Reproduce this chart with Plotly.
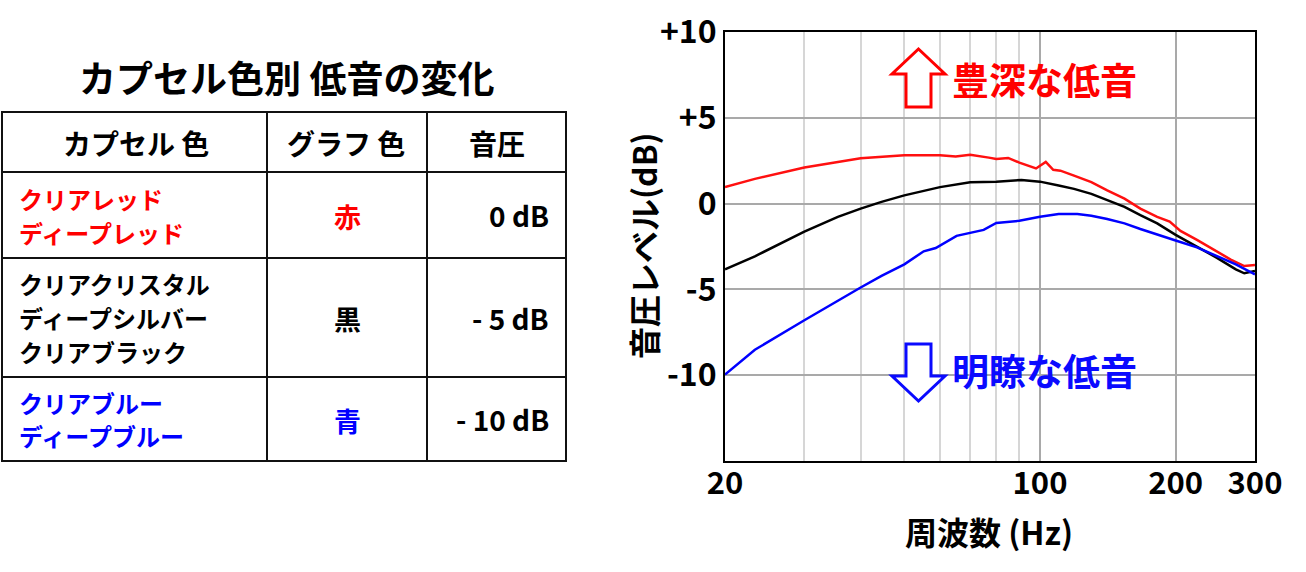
import plotly.graph_objects as go

W, H = 1306, 572
FONT = "Noto Sans CJK JP"

# ---- data ----
freq_red = [20, 23.3, 30, 35.6, 40, 50, 60, 65, 70, 77, 80, 85, 90, 98, 103, 107, 111, 119, 130, 141, 154, 167, 182, 194, 205, 223, 243, 265, 284, 300]
red_db = [0.96, 1.44, 2.10, 2.43, 2.64, 2.82, 2.82, 2.74, 2.84, 2.68, 2.60, 2.66, 2.39, 2.05, 2.43, 1.97, 1.92, 1.63, 1.25, 0.77, 0.29, -0.29, -0.77, -1.05, -1.59, -2.11, -2.68, -3.26, -3.64, -3.58]

freq_black = [20, 23.3, 30, 35.6, 40, 44.5, 50, 60, 70, 80, 91, 100, 110, 119, 130, 141, 154, 167, 182, 200, 223, 247, 272, 284, 300]
black_db = [-3.83, -3.07, -1.63, -0.77, -0.29, 0.10, 0.48, 0.96, 1.25, 1.28, 1.38, 1.28, 1.05, 0.86, 0.57, 0.19, -0.19, -0.67, -1.15, -1.82, -2.49, -3.16, -3.83, -4.06, -3.93]

freq_blue = [20, 23.3, 30, 35.6, 40, 44.5, 50, 55.2, 58.7, 65.3, 70, 75, 80, 90, 100, 110, 121, 130, 141, 154, 167, 182, 200, 223, 247, 272, 300]
blue_db = [-9.96, -8.52, -6.80, -5.65, -4.89, -4.21, -3.54, -2.78, -2.59, -1.88, -1.72, -1.53, -1.13, -1.00, -0.77, -0.61, -0.61, -0.71, -0.90, -1.15, -1.48, -1.82, -2.15, -2.55, -3.07, -3.54, -4.12]

x_tickvals = [20, 100, 200, 300]
x_ticktext = ["20", "100", "200", "300"]
x_minor = [30, 40, 50, 60, 70, 80, 90]
y_tickvals = [10, 5, 0, -5, -10]
y_ticktext = ["+10", "+5", "0", "-5", "-10"]

title_text = "カプセル色別 低音の変化"
table_header = ["カプセル 色", "グラフ 色", "音圧"]
capsule_names = [["クリアレッド", "ディープレッド"],
                 ["クリアクリスタル", "ディープシルバー", "クリアブラック"],
                 ["クリアブルー", "ディープブルー"]]
graph_colors = ["赤", "黒", "青"]
pressures = ["0 dB", "- 5 dB", "- 10 dB"]
row_text_colors = ["#ff0000", "#000000", "#0000ff"]

RED = "#ff0000"
BLUE = "#0a0aff"


def px(x):
    return x / W


def py(y):
    return 1 - y / H


fig = go.Figure()
for f, v, c in [(freq_red, red_db, "#ff1010"), (freq_black, black_db, "#000000"), (freq_blue, blue_db, "#0000ff")]:
    fig.add_trace(go.Scatter(x=f, y=v, mode="lines", line=dict(color=c, width=2.5), showlegend=False, hoverinfo="skip"))

x0p, x1p, y0p, y1p = 725, 1255, 461, 32

fig.update_layout(
    width=W, height=H,
    margin=dict(l=0, r=0, t=0, b=0, pad=0, autoexpand=False),
    paper_bgcolor="white", plot_bgcolor="white",
    showlegend=False,
    xaxis=dict(
        type="log", range=[1.30103, 2.47712],
        domain=[px(x0p), px(x1p)],
        tickvals=x_tickvals, ticktext=x_ticktext, ticks="",
        tickfont=dict(family=FONT, size=31, color="black", weight="bold"),
        ticklabelstandoff=-6,
        showgrid=True, gridcolor="#a9a9a9", gridwidth=2,
        minor=dict(tickvals=x_minor, showgrid=True, gridcolor="#d6d6d6", gridwidth=2, ticks=""),
        showline=True, linecolor="black", linewidth=2, mirror=True,
        zeroline=False, fixedrange=True, automargin=False,
    ),
    yaxis=dict(
        range=[-15, 10],
        domain=[py(y0p), py(y1p)],
        tickvals=y_tickvals, ticktext=y_ticktext, ticks="",
        tickfont=dict(family=FONT, size=32, color="black", weight="bold"),
        showgrid=True, gridcolor="#a9a9a9", gridwidth=2,
        showline=True, linecolor="black", linewidth=2, mirror=True,
        zeroline=False, fixedrange=True, automargin=False,
    ),
)

ann = []
shapes = []

# axis titles
ann.append(dict(x=px(989), y=py(531), xref="paper", yref="paper", text="周波数 (Hz)", showarrow=False,
                font=dict(family=FONT, size=32, color="black", weight="bold"), xanchor="center", yanchor="middle"))
ann.append(dict(x=px(643), y=py(246), xref="paper", yref="paper", text="音圧レベル(dB)", showarrow=False, textangle=-90,
                font=dict(family=FONT, size=32, color="black", weight="bold"), xanchor="center", yanchor="middle"))

# in-chart labels
ann.append(dict(x=px(950), y=py(79), xref="paper", yref="paper", text="豊深な低音", showarrow=False,
                font=dict(family=FONT, size=37, color=RED, weight="bold"), xanchor="left", yanchor="middle"))
ann.append(dict(x=px(950), y=py(370), xref="paper", yref="paper", text="明瞭な低音", showarrow=False,
                font=dict(family=FONT, size=37, color=BLUE, weight="bold"), xanchor="left", yanchor="middle"))


def path(points):
    s = "M " + " L ".join(f"{px(a):.5f},{py(b):.5f}" for a, b in points) + " Z"
    return s


up_arrow = [(918.5, 49), (945, 74), (931, 74), (931, 107), (906, 107), (906, 74), (892, 74)]
down_arrow = [(906, 344), (931, 344), (931, 376), (945, 376), (918.5, 401), (892, 376), (906, 376)]
shapes.append(dict(type="path", xref="paper", yref="paper", path=path(up_arrow), line=dict(color=RED, width=3), fillcolor="white"))
shapes.append(dict(type="path", xref="paper", yref="paper", path=path(down_arrow), line=dict(color=BLUE, width=3), fillcolor="white"))

# title
ann.append(dict(x=px(286), y=py(77), xref="paper", yref="paper", text=title_text, showarrow=False,
                font=dict(family=FONT, size=37, color="black", weight="bold"), xanchor="center", yanchor="middle"))

# table grid
tx = [2, 267, 427, 566]
ty = [112, 172, 258, 377, 461]
for yy in ty:
    shapes.append(dict(type="line", xref="paper", yref="paper", x0=px(tx[0] - 1), x1=px(tx[-1] + 1), y0=py(yy), y1=py(yy),
                       line=dict(color="#111111", width=2)))
for xx in tx:
    shapes.append(dict(type="line", xref="paper", yref="paper", x0=px(xx), x1=px(xx), y0=py(ty[0]), y1=py(ty[-1]),
                       line=dict(color="#111111", width=2)))

# header
hdr_x = [136, 346, 497]
for t, xx in zip(table_header, hdr_x):
    ann.append(dict(x=px(xx), y=py(143), xref="paper", yref="paper", text=t, showarrow=False,
                    font=dict(family=FONT, size=28, color="black", weight="bold"), xanchor="center", yanchor="middle"))

# rows
LINE = 34
for i in range(3):
    mid = (ty[i + 1] + ty[i + 2]) / 2
    lines = capsule_names[i]
    n = len(lines)
    for j, t in enumerate(lines):
        yy = mid + (j - (n - 1) / 2) * LINE
        ann.append(dict(x=px(17), y=py(yy), xref="paper", yref="paper", text=t, showarrow=False,
                        font=dict(family=FONT, size=24, color=row_text_colors[i], weight="bold"),
                        xanchor="left", yanchor="middle"))
    ann.append(dict(x=px(347), y=py(mid + 1), xref="paper", yref="paper", text=graph_colors[i], showarrow=False,
                    font=dict(family=FONT, size=27, color=row_text_colors[i], weight="bold"),
                    xanchor="center", yanchor="middle"))
    ann.append(dict(x=px(551), y=py(mid), xref="paper", yref="paper", text=pressures[i], showarrow=False,
                    font=dict(family=FONT, size=28, color="black", weight="bold"),
                    xanchor="right", yanchor="middle"))

fig.update_layout(annotations=ann, shapes=shapes)
fig.write_html(
    "out.html",
    config={"displayModeBar": False, "staticPlot": True},
    post_script="document.body.style.margin='0px';document.body.style.padding='0px';document.documentElement.style.overflow='hidden';",
)
